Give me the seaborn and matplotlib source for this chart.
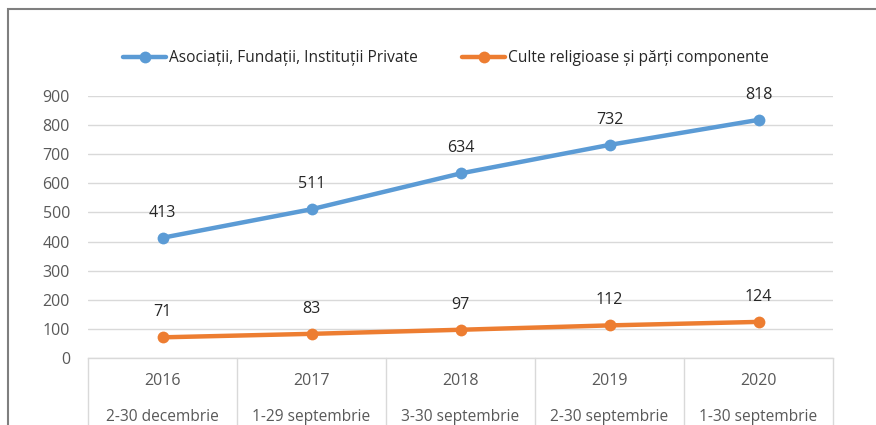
import numpy as np
import pandas as pd
import matplotlib
matplotlib.use("Agg")
import matplotlib.pyplot as plt
import seaborn as sns
from matplotlib.patches import Rectangle

# data
years = ["2016", "2017", "2018", "2019", "2020"]
periods = ["2-30 decembrie", "1-29 septembrie", "3-30 septembrie",
           "2-30 septembrie", "1-30 septembrie"]
asociatii = [413, 511, 634, 732, 818]
culte = [71, 83, 97, 112, 124]
series_names = ["Asociații, Fundații, Instituții Private",
                "Culte religioase și părți componente"]
colors = ["#5B9BD5", "#ED7D31"]

df = pd.DataFrame({
    "pos": list(range(len(years))) * 2,
    "value": asociatii + culte,
    "series": [series_names[0]] * len(years) + [series_names[1]] * len(years),
})

sns.set_style("white")
plt.rcParams["font.family"] = ["Open Sans", "DejaVu Sans"]

fig = plt.figure(figsize=(8.76, 4.25), dpi=100)
ax = fig.add_axes([88 / 876, 1 - 358 / 425, (833 - 88) / 876, (358 - 96) / 425])

sns.lineplot(data=df, x="pos", y="value", hue="series", palette=colors,
             marker="o", markersize=8.5, markeredgewidth=0, linewidth=3.2,
             ax=ax, legend=True)

ax.set_xlim(-0.5, len(years) - 0.5)
ax.set_ylim(0, 900)
ax.set_yticks(np.arange(0, 901, 100))
ax.yaxis.grid(True, color="#d9d9d9", linewidth=1)
ax.set_axisbelow(True)
for s in ["left", "right", "top"]:
    ax.spines[s].set_visible(False)
ax.spines["bottom"].set_color("#d9d9d9")
ax.spines["bottom"].set_linewidth(1)
ax.tick_params(axis="y", length=0, labelsize=11.5, labelcolor="#595959", pad=13)
ax.set_xticks([])
ax.set_xlabel("")
ax.set_ylabel("")

# data labels
for vals in [asociatii, culte]:
    for i, v in enumerate(vals):
        ax.annotate(str(v), (i, v), xytext=(0, 18), textcoords="offset points",
                    ha="center", va="center", fontsize=11.5, color="#262626")

# multi-level category axis drawn as table
trans = ax.get_xaxis_transform()
ax_h = (358 - 96)
for b in np.arange(-0.5, len(years), 1.0):
    ax.plot([b, b], [0, -80 / ax_h], transform=trans, color="#d9d9d9",
            linewidth=1, clip_on=False)
for i, (yr, per) in enumerate(zip(years, periods)):
    ax.text(i, -23 / ax_h, yr, transform=trans, ha="center", va="center",
            fontsize=11.5, color="#595959")
    ax.text(i, -59 / ax_h, per, transform=trans, ha="center", va="center",
            fontsize=11.2, color="#595959")

# legend across the top
handles, labels = ax.get_legend_handles_labels()
ax.legend(handles, labels, loc="center", bbox_to_anchor=(446 / 876, 1 - 58 / 425),
          bbox_transform=fig.transFigure, ncol=2, frameon=False, fontsize=11.2,
          handlelength=2.8, handletextpad=0.2, columnspacing=2.8)

# chart border (cropped on right and bottom)
fig.patches.append(Rectangle((8 / 876, -0.1), 1.2, 1.1 - 9 / 425,
                             transform=fig.transFigure, fill=False,
                             edgecolor="#7f7f7f", linewidth=1.5))

fig.savefig("out.png", dpi=100)
